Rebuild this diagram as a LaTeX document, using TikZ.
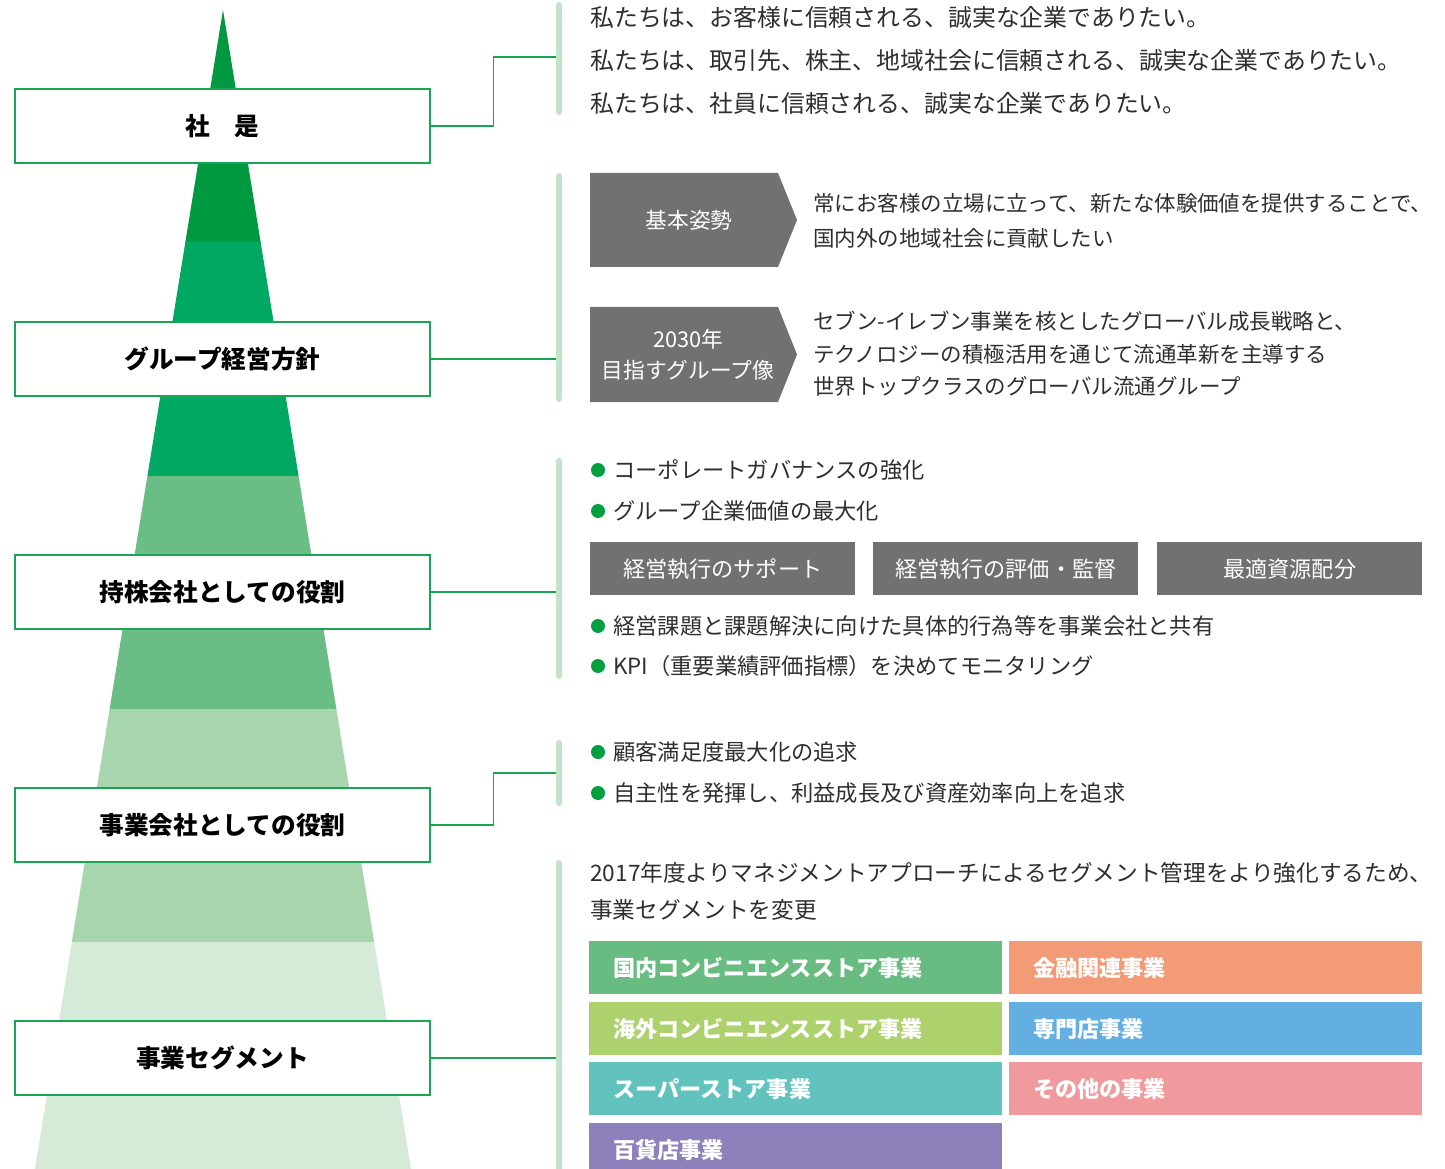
\documentclass[tikz,border=0pt]{standalone}
\usepackage{fontspec}
\setmainfont{Noto Sans CJK JP}
\definecolor{bandA}{HTML}{00993F}
\definecolor{bandB}{HTML}{00A862}
\definecolor{bandC}{HTML}{6ABD84}
\definecolor{bandD}{HTML}{A7D5AE}
\definecolor{bandE}{HTML}{D6EAD8}
\definecolor{lineg}{HTML}{1AA555}
\definecolor{brkc}{HTML}{C3E4C8}
\definecolor{txtc}{HTML}{2E2E2E}
\definecolor{boxg}{HTML}{717171}
\definecolor{bulc}{HTML}{00A040}
\definecolor{sA}{HTML}{68BC82}
\definecolor{sB}{HTML}{F29B76}
\definecolor{sC}{HTML}{ADD16C}
\definecolor{sD}{HTML}{63AFE1}
\definecolor{sE}{HTML}{61C2BE}
\definecolor{sF}{HTML}{F09A9D}
\definecolor{sG}{HTML}{8E80BA}
\begin{document}
\begin{tikzpicture}[x=0.75pt,y=-0.75pt,
  lbl/.style={draw=lineg,line width=1pt,fill=white,minimum width=311.25pt,minimum height=55.5pt,inner sep=0pt,font=\fontsize{18.5pt}{20pt}\selectfont\bfseries,text=black},
  conn/.style={draw=lineg,line width=1pt},
  brk/.style={draw=brkc,line width=4.5pt,line cap=round},
  txt/.style={anchor=west,inner sep=0pt,text=txtc,font=\fontsize{17.9pt}{20pt}\selectfont},
  txtb/.style={anchor=west,inner sep=0pt,text=txtc,font=\fontsize{16.1pt}{20pt}\selectfont},
  txtc/.style={anchor=west,inner sep=0pt,text=txtc,font=\fontsize{16.7pt}{20pt}\selectfont},
  wtxt/.style={inner sep=0pt,text=white,font=\fontsize{16.3pt}{20pt}\selectfont},
  gbox/.style={fill=boxg,minimum width=198.75pt,minimum height=39.75pt,inner sep=0pt,text=white,font=\fontsize{16.6pt}{20pt}\selectfont,anchor=north west},
  seg/.style={anchor=north west,minimum height=39.75pt,inner xsep=18pt,inner ysep=0pt,text width=273.75pt,align=left,text=white,font=\fontsize{16.6pt}{20pt}\selectfont\bfseries},
  bul/.style={circle,fill=bulc,minimum size=10.5pt,inner sep=0pt}
]
\clip (0,0) rectangle (1445,1169);
% pyramid
\fill[bandA] (223,10) -- (260.63,242) -- (185.37,242) -- cycle;
\fill[bandB] (185.37,242) -- (260.63,242) -- (298.59,476) -- (147.41,476) -- cycle;
\fill[bandC] (147.41,476) -- (298.59,476) -- (336.39,709) -- (109.61,709) -- cycle;
\fill[bandD] (109.61,709) -- (336.39,709) -- (374.18,942) -- (71.82,942) -- cycle;
\fill[bandE] (71.82,942) -- (374.18,942) -- (412,1175) -- (34,1175) -- cycle;
% label boxes
\node[lbl] (b1) at (222.5,126) {社　是};
\node[lbl] (b2) at (222.5,359) {グループ経営方針};
\node[lbl] (b3) at (222.5,592) {持株会社としての役割};
\node[lbl] (b4) at (222.5,825) {事業会社としての役割};
\node[lbl] (b5) at (222.5,1058) {事業セグメント};
% brackets
\draw[brk] (559,5) -- (559,112);
\draw[brk] (559,176) -- (559,399);
\draw[brk] (559,461) -- (559,676);
\draw[brk] (559,743) -- (559,803);
\draw[brk] (559,863) -- (559,1180);
\coordinate (k1) at (556,57);
\coordinate (k2) at (556,359);
\coordinate (k3) at (556,592);
\coordinate (k4) at (556,773);
\coordinate (k5) at (556,1058);
% connectors
\draw[conn] (b1.east) -- ++(63,0) |- (k1);
\draw[conn] (b2.east) -- (k2);
\draw[conn] (b3.east) -- (k3);
\draw[conn] (b4.east) -- ++(63,0) |- (k4);
\draw[conn] (b5.east) -- (k5);
% section 1
\node[txt] (t11) at (590,17) {私たちは、お客様に信頼される、誠実な企業でありたい。};
\node[txt] (t12) at (590,60) {私たちは、取引先、株主、地域社会に信頼される、誠実な企業でありたい。};
\node[txt] (t13) at (590,103) {私たちは、社員に信頼される、誠実な企業でありたい。};
% section 2
\fill[boxg] (590,173) -- (778,173) -- (797,220) -- (778,267) -- (590,267) -- cycle;
\node[wtxt] (p1) at (689,220) {基本姿勢};
\fill[boxg] (590,307) -- (778,307) -- (797,354.5) -- (778,402) -- (590,402) -- cycle;
\node[wtxt] (p2a) at (688,339) {2030年};
\node[wtxt] (p2b) at (688,370) {目指すグループ像};
\node[txtb] (t21) at (813,203) {常にお客様の立場に立って、新たな体験価値を提供することで、};
\node[txtb] (t22) at (813,238) {国内外の地域社会に貢献したい};
\node[txtb] (t23) at (813,321) {セブン-イレブン事業を核としたグローバル成長戦略と、};
\node[txtb] (t24) at (813,354) {テクノロジーの積極活用を通じて流通革新を主導する};
\node[txtb] (t25) at (813,386) {世界トップクラスのグローバル流通グループ};
% section 3
\node[bul] (u1) at (598,470) {};
\node[txtc] (t31) at (613,470) {コーポレートガバナンスの強化};
\node[bul] (u2) at (598,511) {};
\node[txtc] (t32) at (613,511) {グループ企業価値の最大化};
\node[gbox] (g1) at (590,542) {経営執行のサポート};
\node[gbox] (g2) at (873,542) {経営執行の評価・監督};
\node[gbox] (g3) at (1157,542) {最適資源配分};
\node[bul] (u3) at (598,626) {};
\node[txtc] (t33) at (613,626) {経営課題と課題解決に向けた具体的行為等を事業会社と共有};
\node[bul] (u4) at (598,666) {};
\node[txtc] (t34) at (613,666) {KPI（重要業績評価指標）を決めてモニタリング};
% section 4
\node[bul] (u5) at (598,752) {};
\node[txtc] (t41) at (613,752) {顧客満足度最大化の追求};
\node[bul] (u6) at (598,793) {};
\node[txtc] (t42) at (613,793) {自主性を発揮し、利益成長及び資産効率向上を追求};
% section 5
\node[txtc,font=\fontsize{17pt}{20pt}\selectfont] (t51) at (590,873) {2017年度よりマネジメントアプローチによるセグメント管理をより強化するため、};
\node[txtc,font=\fontsize{17pt}{20pt}\selectfont] (t52) at (590,910) {事業セグメントを変更};
\node[seg,fill=sA] (s1) at (589,941) {国内コンビニエンスストア事業};
\node[seg,fill=sB] (s2) at (1009,941) {金融関連事業};
\node[seg,fill=sC] (s3) at (589,1002) {海外コンビニエンスストア事業};
\node[seg,fill=sD] (s4) at (1009,1002) {専門店事業};
\node[seg,fill=sE] (s5) at (589,1062) {スーパーストア事業};
\node[seg,fill=sF] (s6) at (1009,1062) {その他の事業};
\node[seg,fill=sG] (s7) at (589,1123) {百貨店事業};
\end{tikzpicture}
\end{document}
